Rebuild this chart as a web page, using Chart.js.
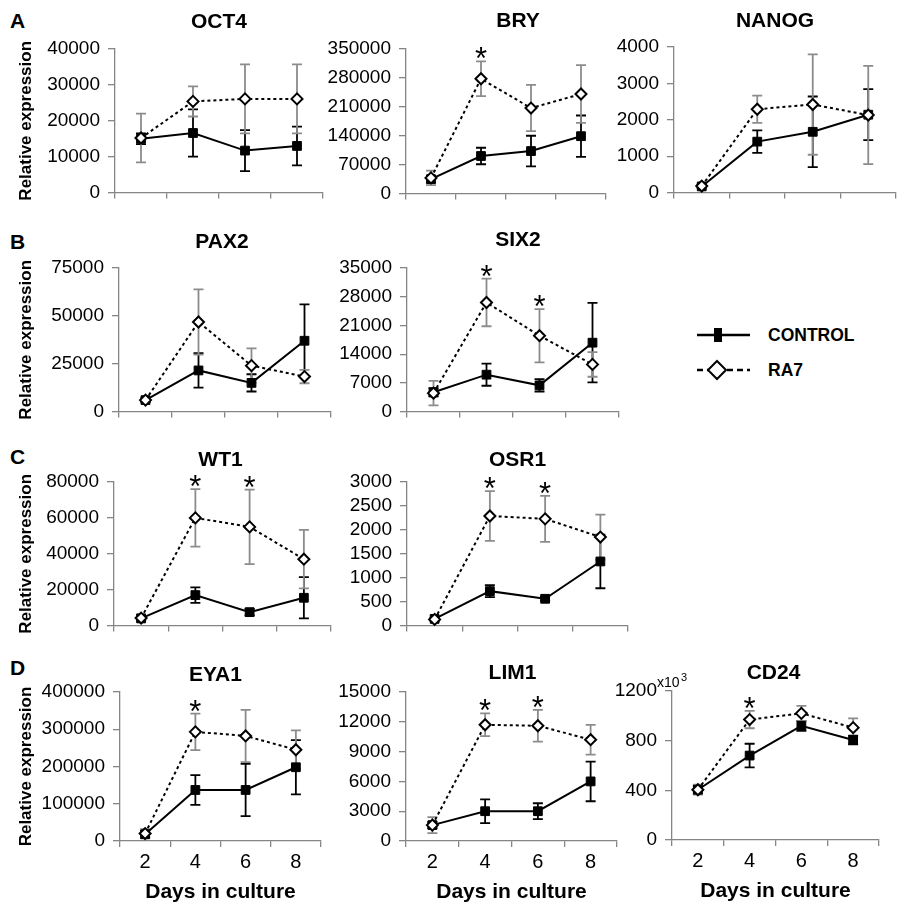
<!DOCTYPE html>
<html>
<head>
<meta charset="utf-8">
<script src="https://cdn.jsdelivr.net/npm/chart.js@4.4.0/dist/chart.umd.min.js"></script>
<style>
body { margin: 0; background: #fff; }
#fig { position: relative; width: 918px; height: 913px; overflow: hidden; font-family: "Liberation Sans", Arial, sans-serif; color: #000; }
#fig canvas { position: absolute; }
.panel { position: absolute; font-weight: bold; font-size: 21px; line-height: 22px; }
.leg { position: absolute; font-weight: bold; font-size: 17.5px; line-height: 20px; }
</style>
</head>
<body>
<div id="fig">
  <div class="panel" style="left:10px;top:10px">A</div>
  <div class="panel" style="left:10px;top:231px">B</div>
  <div class="panel" style="left:10px;top:446px">C</div>
  <div class="panel" style="left:10px;top:657px">D</div>
  <canvas id="legendKey" width="70" height="70" style="left:690px;top:318px"></canvas>
  <div class="leg" style="left:768px;top:325px">CONTROL</div>
  <div class="leg" style="left:768px;top:360px">RA7</div>
</div>
<script>
const days = ["2", "4", "6", "8"];

// OCT4
const oct4Ticks = [0, 10000, 20000, 30000, 40000];
const oct4Control = [15000, 16600, 11700, 13000];
const oct4ControlErr = [1500, 6600, 5700, 5400];
const oct4Ra7 = [15200, 25400, 26100, 26100];
const oct4Ra7Err = [6800, 4200, 9600, 9600];
const oct4Stars = [0, 0, 0, 0];

// BRY
const bryTicks = [0, 70000, 140000, 210000, 280000, 350000];
const bryControl = [35000, 91000, 103000, 139000];
const bryControlErr = [8000, 20000, 37000, 50000];
const bryRa7 = [38000, 278000, 207000, 241000];
const bryRa7Err = [17500, 42000, 56000, 70000];
const bryStars = [0, 1, 0, 0];

// NANOG
const nanogTicks = [0, 1000, 2000, 3000, 4000];
const nanogControl = [170, 1400, 1670, 2140];
const nanogControlErr = [40, 310, 970, 700];
const nanogRa7 = [180, 2290, 2420, 2130];
const nanogRa7Err = [60, 375, 1380, 1350];
const nanogStars = [0, 0, 0, 0];

// PAX2
const pax2Ticks = [0, 25000, 50000, 75000];
const pax2Control = [6000, 21500, 15000, 37000];
const pax2ControlErr = [1000, 9000, 4500, 19000];
const pax2Ra7 = [6000, 46800, 24000, 18300];
const pax2Ra7Err = [1200, 17000, 9000, 3500];
const pax2Stars = [0, 0, 0, 0];

// SIX2
const six2Ticks = [0, 7000, 14000, 21000, 28000, 35000];
const six2Control = [4700, 9000, 6400, 16800];
const six2ControlErr = [1000, 2700, 1500, 9700];
const six2Ra7 = [4500, 26600, 18500, 11500];
const six2Ra7Err = [3000, 5800, 6500, 3000];
const six2Stars = [0, 1, 1, 0];

// WT1
const wt1Ticks = [0, 20000, 40000, 60000, 80000];
const wt1Control = [4000, 17000, 7500, 15500];
const wt1ControlErr = [1000, 4300, 1800, 11500];
const wt1Ra7 = [4200, 60000, 55000, 37000];
const wt1Ra7Err = [2000, 16000, 20700, 16300];
const wt1Stars = [0, 1, 1, 0];

// OSR1
const osr1Ticks = [0, 500, 1000, 1500, 2000, 2500, 3000];
const osr1Control = [140, 720, 560, 1340];
const osr1ControlErr = [20, 125, 40, 560];
const osr1Ra7 = [130, 2290, 2230, 1850];
const osr1Ra7Err = [30, 520, 480, 470];
const osr1Stars = [0, 1, 1, 0];

// EYA1
const eya1Ticks = [0, 100000, 200000, 300000, 400000];
const eya1Control = [18000, 137000, 137000, 198000];
const eya1ControlErr = [8000, 40000, 70000, 73000];
const eya1Ra7 = [20000, 293000, 282000, 245000];
const eya1Ra7Err = [12000, 49000, 70000, 52000];
const eya1Stars = [0, 1, 0, 0];

// LIM1
const lim1Ticks = [0, 3000, 6000, 9000, 12000, 15000];
const lim1Control = [1600, 3000, 3000, 6000];
const lim1ControlErr = [300, 1200, 800, 2000];
const lim1Ra7 = [1600, 11700, 11600, 10200];
const lim1Ra7Err = [800, 1150, 1600, 1500];
const lim1Stars = [0, 1, 1, 0];

// CD24 (x10^3)
const cd24Ticks = [0, 400, 800, 1200];
const cd24Control = [405, 680, 920, 805];
const cd24ControlErr = [30, 95, 40, 35];
const cd24Ra7 = [405, 970, 1020, 905];
const cd24Ra7Err = [40, 70, 60, 75];
const cd24Stars = [0, 1, 0, 0];

const FONT = "'Liberation Sans', Arial, sans-serif";
const axisGray = "#858585";

// where each small plot sits on the page (axis x, right end, top, zero line)
const panels = [
  { name: "OCT4", ticks: oct4Ticks, ctrl: oct4Control, ctrlErr: oct4ControlErr, ra7: oct4Ra7, ra7Err: oct4Ra7Err, stars: oct4Stars,
    box: { ax: 115, ar: 323, at: 49, az: 198, gap: 27, dx: 0, first: true, last: false } },
  { name: "BRY", ticks: bryTicks, ctrl: bryControl, ctrlErr: bryControlErr, ra7: bryRa7, ra7Err: bryRa7Err, stars: bryStars,
    box: { ax: 406, ar: 606, at: 49, az: 199, gap: 28, dx: 12, first: false, last: false } },
  { name: "NANOG", ticks: nanogTicks, ctrl: nanogControl, ctrlErr: nanogControlErr, ra7: nanogRa7, ra7Err: nanogRa7Err, stars: nanogStars,
    box: { ax: 674, ar: 896, at: 47, az: 198, gap: 26, dx: -10, first: false, last: false } },
  { name: "PAX2", ticks: pax2Ticks, ctrl: pax2Control, ctrlErr: pax2ControlErr, ra7: pax2Ra7, ra7Err: pax2Ra7Err, stars: pax2Stars,
    box: { ax: 119, ar: 331, at: 268, az: 417, gap: 26, dx: -3, first: true, last: false } },
  { name: "SIX2", ticks: six2Ticks, ctrl: six2Control, ctrlErr: six2ControlErr, ra7: six2Ra7, ra7Err: six2Ra7Err, stars: six2Stars,
    box: { ax: 407, ar: 619, at: 268, az: 417, gap: 28, dx: 5, first: false, last: false } },
  { name: "WT1", ticks: wt1Ticks, ctrl: wt1Control, ctrlErr: wt1ControlErr, ra7: wt1Ra7, ra7Err: wt1Ra7Err, stars: wt1Stars,
    box: { ax: 114, ar: 331, at: 482, az: 631, gap: 22, dx: -2, first: true, last: false } },
  { name: "OSR1", ticks: osr1Ticks, ctrl: osr1Control, ctrlErr: osr1ControlErr, ra7: osr1Ra7, ra7Err: osr1Ra7Err, stars: osr1Stars,
    box: { ax: 407, ar: 628, at: 482, az: 631, gap: 22, dx: 0, first: false, last: false } },
  { name: "EYA1", ticks: eya1Ticks, ctrl: eya1Control, ctrlErr: eya1ControlErr, ra7: eya1Ra7, ra7Err: eya1Ra7Err, stars: eya1Stars,
    box: { ax: 120, ar: 321, at: 692, az: 841, gap: 17, dx: -5, first: true, last: true } },
  { name: "LIM1", ticks: lim1Ticks, ctrl: lim1Control, ctrlErr: lim1ControlErr, ra7: lim1Ra7, ra7Err: lim1Ra7Err, stars: lim1Stars,
    box: { ax: 406, ar: 617, at: 692, az: 841, gap: 19, dx: 1, first: false, last: true } },
  { name: "CD24", ticks: cd24Ticks, ctrl: cd24Control, ctrlErr: cd24ControlErr, ra7: cd24Ra7, ra7Err: cd24Ra7Err, stars: cd24Stars,
    box: { ax: 672, ar: 879, at: 691, az: 840, gap: 18, dx: -2, first: false, last: true, thousands: true } }
];

// error bars, under the lines and markers
const errorBars = {
  id: "errorBars",
  beforeDatasetsDraw(chart) {
    const ctx = chart.ctx;
    const y = chart.scales.y;
    for (let i = chart.data.datasets.length - 1; i >= 0; i--) {
      const ds = chart.data.datasets[i];
      const meta = chart.getDatasetMeta(i);
      ctx.save();
      ctx.strokeStyle = ds.barColor;
      ctx.lineWidth = 1.8;
      meta.data.forEach(function(pt, j) {
        const hi = y.getPixelForValue(ds.data[j] + ds.err[j]);
        const lo = y.getPixelForValue(Math.max(0, ds.data[j] - ds.err[j]));
        ctx.beginPath();
        ctx.moveTo(pt.x, hi); ctx.lineTo(pt.x, lo);
        ctx.moveTo(pt.x - 5, hi); ctx.lineTo(pt.x + 5, hi);
        ctx.moveTo(pt.x - 5, lo); ctx.lineTo(pt.x + 5, lo);
        ctx.stroke();
      });
      ctx.restore();
    }
  }
};

// gene name, significance stars and the x10^3 note
const decorations = {
  id: "decorations",
  afterDraw(chart, args, opts) {
    const ctx = chart.ctx;
    const area = chart.chartArea;
    const y = chart.scales.y;
    ctx.save();
    ctx.fillStyle = "#000";
    ctx.textAlign = "center";
    ctx.textBaseline = "middle";
    ctx.font = "bold 21px " + FONT;
    ctx.fillText(opts.title, (area.left + area.right) / 2 + opts.dx, area.top - opts.gap);

    const ds = chart.data.datasets[0];
    const meta = chart.getDatasetMeta(0);
    ctx.font = "31px " + FONT;
    ctx.textBaseline = "alphabetic";
    meta.data.forEach(function(pt, j) {
      if (!ds.stars[j]) return;
      const hi = y.getPixelForValue(ds.data[j] + ds.err[j]);
      ctx.fillText("*", pt.x, hi - 10 + 18);
    });

    if (opts.thousands) {
      ctx.textAlign = "left";
      ctx.font = "14px " + FONT;
      ctx.fillText("x10", area.left - 15, area.top - 4);
      ctx.font = "11px " + FONT;
      ctx.fillText("3", area.left + 9, area.top - 10);
    }
    ctx.restore();
  }
};

const fig = document.getElementById("fig");

function makeChart(p) {
  const b = p.box;
  const left = b.first ? 0 : b.ax - 100;
  const yW = b.ax - left;
  const padTop = 50;
  const padRight = 12;
  const xH = b.last ? 72 : 14;
  const width = b.ar - left + padRight;
  const height = padTop + (b.az - b.at) + xH;

  const canvas = document.createElement("canvas");
  canvas.width = width;
  canvas.height = height;
  canvas.style.left = left + "px";
  canvas.style.top = (b.at - padTop) + "px";
  fig.appendChild(canvas);

  return new Chart(canvas.getContext("2d"), {
    type: "line",
    data: {
      labels: days,
      datasets: [
        {
          label: "RA7",
          data: p.ra7,
          err: p.ra7Err,
          stars: p.stars,
          barColor: "#8c8c8c",
          borderColor: "#000",
          borderWidth: 2,
          borderDash: [3, 3],
          pointStyle: "rectRot",
          pointRadius: 5.5,
          pointBackgroundColor: "#fff",
          pointBorderColor: "#000",
          pointBorderWidth: 2,
          tension: 0,
          clip: false
        },
        {
          label: "CONTROL",
          data: p.ctrl,
          err: p.ctrlErr,
          stars: [0, 0, 0, 0],
          barColor: "#000",
          borderColor: "#000",
          borderWidth: 2,
          pointStyle: "rect",
          pointRadius: 6.2,
          pointBackgroundColor: "#000",
          pointBorderColor: "#000",
          pointBorderWidth: 1,
          tension: 0,
          clip: false
        }
      ]
    },
    options: {
      responsive: false,
      animation: false,
      devicePixelRatio: 1,
      layout: { padding: { top: padTop, right: padRight, left: 0, bottom: 0 } },
      plugins: {
        legend: { display: false },
        tooltip: { enabled: false },
        decorations: { title: p.name, gap: b.gap, dx: b.dx, thousands: !!b.thousands }
      },
      scales: {
        x: {
          type: "category",
          offset: true,
          grid: { display: true, drawOnChartArea: false, drawTicks: true, tickLength: 6, offset: true, color: axisGray, lineWidth: 1.3 },
          border: { display: true, color: axisGray, width: 1.3 },
          ticks: { display: b.last, color: "#000", font: { family: FONT, size: 20 }, padding: 3, maxRotation: 0, autoSkip: false },
          title: { display: b.last, text: "Days in culture", color: "#000", font: { family: FONT, size: 21, weight: "bold" }, padding: { top: 0, bottom: 8 } },
          afterFit(s) { s.height = xH; }
        },
        y: {
          min: p.ticks[0],
          max: p.ticks[p.ticks.length - 1],
          grid: { display: true, drawOnChartArea: false, drawTicks: true, tickLength: 7, color: axisGray, lineWidth: 1.3 },
          border: { display: true, color: axisGray, width: 1.3 },
          ticks: { stepSize: p.ticks[1] - p.ticks[0], autoSkip: false, color: "#000", padding: 8, font: { family: FONT, size: 19 }, callback: function(v) { return String(v); } },
          title: { display: b.first, text: "Relative expression", color: "#000", font: { family: FONT, size: 17, weight: "bold" }, padding: { top: 16, bottom: 0 } },
          afterFit(s) { s.width = yW; }
        }
      }
    },
    plugins: [errorBars, decorations]
  });
}

panels.forEach(makeChart);

// legend symbols
const lk = document.getElementById("legendKey").getContext("2d");
lk.strokeStyle = "#000";
lk.lineWidth = 2.5;
lk.beginPath(); lk.moveTo(7, 17); lk.lineTo(60, 17); lk.stroke();
lk.fillStyle = "#000";
lk.fillRect(24, 10, 8, 14);
lk.setLineDash([6, 4]);
lk.beginPath(); lk.moveTo(7, 52); lk.lineTo(60, 52); lk.stroke();
lk.setLineDash([]);
lk.lineWidth = 2;
lk.fillStyle = "#fff";
lk.beginPath();
lk.moveTo(27, 43); lk.lineTo(36, 52); lk.lineTo(27, 61); lk.lineTo(18, 52); lk.closePath();
lk.fill(); lk.stroke();
</script>
</body>
</html>
